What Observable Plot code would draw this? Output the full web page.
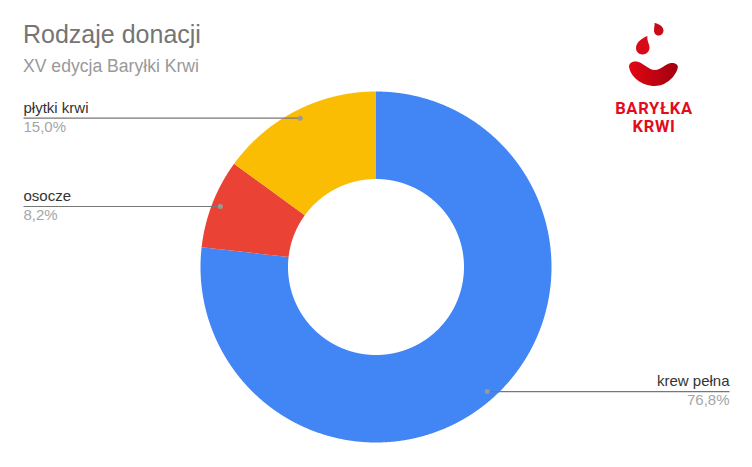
<!DOCTYPE html>
<html lang="pl">
<head>
<meta charset="utf-8">
<script src="https://cdn.jsdelivr.net/npm/d3@7"></script>
<script src="https://cdn.jsdelivr.net/npm/@observablehq/plot@0.6"></script>
<style>
  html, body { margin: 0; padding: 0; background: #fff; }
  #wrap { position: relative; width: 752px; height: 467px; overflow: hidden; font-family: "Liberation Sans", Arial, sans-serif; }
  #title { position: absolute; left: 23px; top: 19px; font-size: 25px; line-height: 30px; color: #757575; }
  #subtitle { position: absolute; left: 23px; top: 56px; font-size: 17.6px; line-height: 20px; color: #999; }
  #logo { position: absolute; left: 0; top: 0; }
</style>
</head>
<body>
<div id="wrap">
  <div id="chart"></div>
  <div id="title">Rodzaje donacji</div>
  <div id="subtitle">XV edycja Baryłki Krwi</div>
  <svg id="logo" width="752" height="467" viewBox="0 0 752 467">
    <defs>
      <linearGradient id="g" x1="0" x2="1" y1="0" y2="0">
        <stop offset="0" stop-color="#e30613"/>
        <stop offset="1" stop-color="#a1000f"/>
      </linearGradient>
    </defs>
    <path fill="#c90a17" d="M654.5,23 C658,23.5 663.5,26 663.5,30.5 C663.5,33.5 661,35.5 658.5,35.5 C655.5,35.5 654,33 654,30.5 C654,28 654.8,25 654.5,23 Z"/>
    <path fill="#d90a17" d="M647.5,36 C646.5,40 649.5,44 649.5,47.5 C649.5,51.5 646.5,54.5 642.5,54.5 C638.5,54.5 636,51.5 636,48 C636,42.5 642,38 647.5,36 Z"/>
    <path fill="url(#g)" d="M629,66.5 C629.5,62 634,60.8 638.5,62 C644,63.5 648.5,70 655,70 C661,70 665,64 670,63.2 C674.5,62.5 678.5,64.5 677.8,67.5 C676.5,75 667,86 655,86 C641,86 630,76 629,66.5 Z"/>
    <g font-family="Roboto, sans-serif" font-weight="700" fill="#e30b1c" text-anchor="middle" font-size="16.5" letter-spacing="0.7">
      <text x="654" y="114">BARYŁKA</text>
      <text x="654" y="132">KRWI</text>
    </g>
  </svg>
</div>
<script>
const categories = ["krew pełna", "osocze", "płytki krwi"];
const shares = [76.8, 8.2, 15.0];
const shareLabels = ["76,8%", "8,2%", "15,0%"];
const colors = ["#4285f4", "#ea4335", "#fbbc04"];
const labelSide = ["right", "left", "left"];

const W = 752, H = 467;
const cx = 375.5, cy = 266.5, R = 175.5, r0 = 88, rDot = 167;
const leftEdge = 23, rightEdge = 729;

const total = d3.sum(shares);
let acc = 0;
const slices = categories.map((name, i) => {
  const a0 = acc / total * 2 * Math.PI;
  acc += shares[i];
  const a1 = acc / total * 2 * Math.PI;
  return {name, a0, a1, color: colors[i], label: shareLabels[i], side: labelSide[i]};
});

const polar = (a, rad) => ({x: cx + rad * Math.sin(a), y: cy - rad * Math.cos(a)});

// Outline of each ring sector, sampled along the slice's own angles
const outline = slices.flatMap(s => {
  const n = Math.max(2, Math.ceil((s.a1 - s.a0) / 0.004));
  const t = d3.range(n + 1).map(k => s.a0 + (s.a1 - s.a0) * k / n);
  return [...t.map(a => polar(a, R)), ...t.slice().reverse().map(a => polar(a, r0))]
    .map(p => ({...p, name: s.name, color: s.color}));
});

const callouts = slices.map(s => {
  const p = polar((s.a0 + s.a1) / 2, rDot);
  const edge = s.side === "left" ? leftEdge : rightEdge;
  return {...p, name: s.name, label: s.label, edge, anchor: s.side === "left" ? "start" : "end"};
});

const labelMark = (rows, anchor) => [
  Plot.text(rows, {x: "edge", y: "y", text: "name", textAnchor: anchor, dy: -10.5, fill: "#333", fontSize: 15}),
  Plot.text(rows, {x: "edge", y: "y", text: "label", textAnchor: anchor, dy: 9, fill: "#a6a6a6", fontSize: 15})
];

const plot = Plot.plot({
  width: W, height: H,
  margin: 0,
  x: {domain: [0, W], range: [0, W], axis: null},
  y: {domain: [0, H], range: [0, H], axis: null},
  style: {fontFamily: '"Liberation Sans", Arial, sans-serif', background: "#fff"},
  marks: [
    ...slices.map(s => Plot.line(outline.filter(d => d.name === s.name), {
      x: "x", y: "y", fill: s.color, stroke: "none", curve: "linear-closed"
    })),
    Plot.link(callouts, {x1: "x", y1: "y", x2: "edge", y2: "y", stroke: "#777", strokeWidth: 1.2}),
    Plot.dot(callouts, {x: "x", y: "y", r: 2.5, fill: "#999", stroke: "none"}),
    ...labelMark(callouts.filter(d => d.anchor === "start"), "start"),
    ...labelMark(callouts.filter(d => d.anchor === "end"), "end")
  ]
});
document.getElementById("chart").append(plot);
</script>
</body>
</html>
